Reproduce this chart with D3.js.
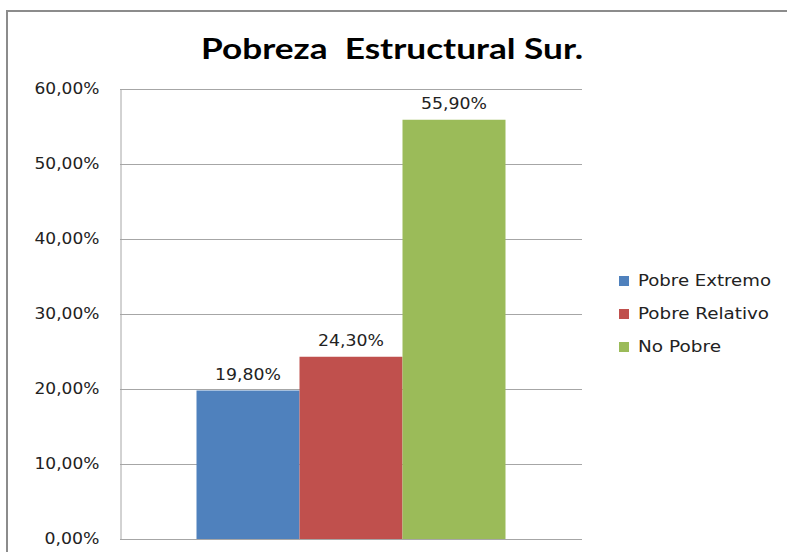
<!DOCTYPE html>
<html><head><meta charset="utf-8">
<script src="https://cdn.jsdelivr.net/npm/d3@7"></script>
<style>body{margin:0;background:#fff}svg{display:block}</style>
</head><body><svg id="c" width="787" height="552"></svg>
<script>
const categories = ["Pobre Extremo", "Pobre Relativo", "No Pobre"];
const values = [0.198, 0.243, 0.559];
const colors = ["#4f81bd", "#c0504d", "#9bbb59"];
const tickValues = [0, 0.1, 0.2, 0.3, 0.4, 0.5, 0.6];
const title = "Pobreza  Estructural Sur.";

const svg = d3.select("#c");
const fmt = v => (v * 100).toFixed(2).replace(".", ",") + "%";

// outer frame
svg.append("rect").attr("x", 7).attr("y", 11).attr("width", 800).attr("height", 600)
  .attr("fill", "none").attr("stroke", "#8c8c8c").attr("stroke-width", 2);

const plot = {x0: 120, x1: 582, y0: 89, y1: 539};
const y = d3.scaleLinear().domain([0, 0.6]).range([plot.y1, plot.y0]);
const xBand = d3.scaleBand().domain(["g"]).range([plot.x0, plot.x1]).paddingInner(0).paddingOuter(0.2476);
const xSub = d3.scaleBand().domain(categories).range([xBand("g"), xBand("g") + xBand.bandwidth()]);

// gridlines
svg.append("g").selectAll("line").data(tickValues).join("line")
  .attr("x1", plot.x0).attr("x2", plot.x1)
  .attr("y1", d => Math.round(y(d)) + 0.5).attr("y2", d => Math.round(y(d)) + 0.5)
  .attr("stroke", "#a6a6a6").attr("stroke-width", 1);

// y axis
const yAxis = d3.axisLeft(y).tickValues(tickValues).tickFormat(fmt).tickSize(0).tickPadding(21);
const ga = svg.append("g").attr("transform", `translate(${plot.x0 + 0.5},0)`).call(yAxis);
ga.select(".domain").attr("stroke", "#a6a6a6");
ga.selectAll("text").attr("font-family", "DejaVu Sans").attr("font-size", 15.5).attr("fill", "#222")
  .attr("textLength", d => d === 0 ? 55 : 65).attr("lengthAdjust", "spacingAndGlyphs");

// bars
svg.append("g").selectAll("rect").data(values).join("rect")
  .attr("x", (d, i) => xSub(categories[i]))
  .attr("width", xSub.bandwidth())
  .attr("y", d => y(d)).attr("height", d => y(0) - y(d))
  .attr("fill", (d, i) => colors[i]);

// value labels
svg.append("g").selectAll("text").data(values).join("text")
  .attr("x", (d, i) => xSub(categories[i]) + xSub.bandwidth() / 2)
  .attr("y", d => y(d) - 11)
  .attr("text-anchor", "middle")
  .attr("font-family", "DejaVu Sans").attr("font-size", 15.5).attr("fill", "#222")
  .attr("textLength", 66).attr("lengthAdjust", "spacingAndGlyphs")
  .text(d => fmt(d));

// title
svg.append("text").attr("x", 392).attr("y", 59).attr("text-anchor", "middle")
  .attr("xml:space", "preserve").style("white-space", "pre")
  .attr("font-family", "Lato").attr("font-weight", "bold").attr("font-size", 29).attr("fill", "#000")
  .attr("textLength", 382).attr("lengthAdjust", "spacingAndGlyphs")
  .text(title);

// legend
const lg = svg.append("g").selectAll("g").data(categories).join("g")
  .attr("transform", (d, i) => `translate(619,${281 + i * 33})`);
lg.append("rect").attr("x", 0).attr("y", -5).attr("width", 10).attr("height", 10)
  .attr("fill", (d, i) => colors[i]);
lg.append("text").attr("x", 19).attr("y", 0).attr("dy", "0.35em")
  .attr("font-family", "DejaVu Sans").attr("font-size", 15.5).attr("fill", "#222")
  .attr("textLength", d => d === "Pobre Extremo" ? 133 : d === "Pobre Relativo" ? 131 : 83)
  .attr("lengthAdjust", "spacingAndGlyphs")
  .text(d => d);
</script></body></html>
